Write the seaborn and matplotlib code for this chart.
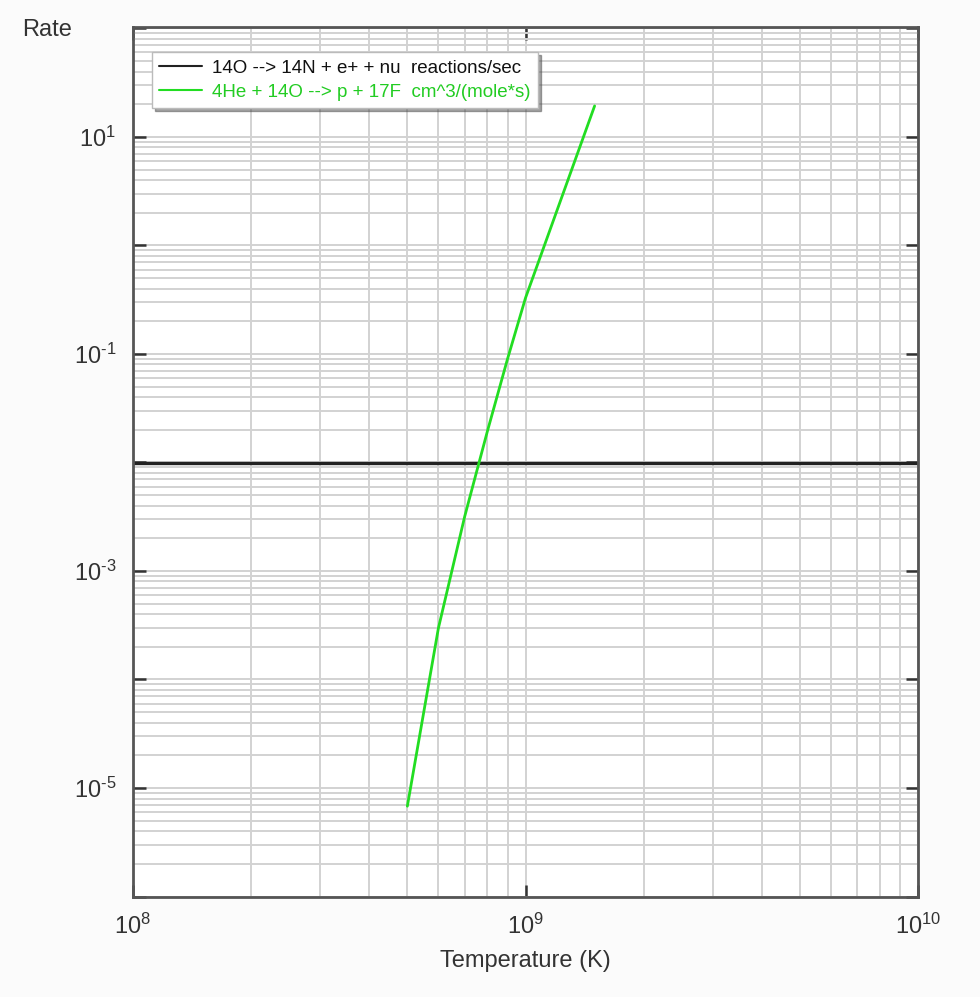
import numpy as np
import pandas as pd
import matplotlib
matplotlib.use("Agg")
import matplotlib.pyplot as plt
import matplotlib.ticker as mticker
import seaborn as sns

# Reaction rates versus temperature
decay_label = "14O --> 14N + e+ + nu  reactions/sec"
capture_label = "4He + 14O --> p + 17F  cm^3/(mole*s)"

decay_T = [1e8, 1e10]
decay_rate = [9.8e-3, 9.8e-3]

capture_T = [5.0e8, 6.0e8, 7.0e8, 8.0e8, 9.0e8, 1.0e9, 1.5e9]
capture_rate = [6.8e-6, 2.98e-4, 3.18e-3, 1.95e-2, 9.0e-2, 3.28e-1, 19.3]

x_ticks = [1e8, 1e9, 1e10]
x_ticklabels = [r"$\mathregular{10^{8}}$", r"$\mathregular{10^{9}}$", r"$\mathregular{10^{10}}$"]
y_exponents = [-6, -5, -4, -3, -2, -1, 0, 1, 2]
y_labelled = [-5, -3, -1, 1]


def power_label(e):
    # plain hyphen in the exponent rather than a typographic minus
    sign = r"\text{-}" if e < 0 else ""
    return r"$\mathregular{10^{%s%d}}$" % (sign, abs(e))


sns.set_theme(style="white")
plt.rcParams["font.family"] = ["Liberation Sans", "DejaVu Sans"]
plt.rcParams["mathtext.fontset"] = "custom"
plt.rcParams["mathtext.rm"] = "Liberation Sans"
plt.rcParams["mathtext.it"] = "Liberation Sans"
plt.rcParams["axes.unicode_minus"] = False

df = pd.concat([
    pd.DataFrame({"T": decay_T, "rate": decay_rate, "reaction": decay_label}),
    pd.DataFrame({"T": capture_T, "rate": capture_rate, "reaction": capture_label}),
], ignore_index=True)

fig = plt.figure(figsize=(9.8, 9.97), dpi=100, facecolor="#fbfbfb")
ax = fig.add_axes([133 / 980, 1 - 897 / 997, (918 - 133) / 980, (897 - 27) / 997])
ax.set_facecolor("white")

palette = {decay_label: "#222222", capture_label: "#22dd22"}
sns.lineplot(data=df, x="T", y="rate", hue="reaction", palette=palette,
             ax=ax, legend=True, sort=False)
for line, lw in zip(ax.get_lines(), [2.4, 2.0]):
    line.set_linewidth(lw)

ax.set_xscale("log")
ax.set_yscale("log")
ax.set_xlim(1e8, 1e10)
ax.set_ylim(9.9e-7, 1.03e2)

# Grid on every decade and on every sub-decade step
ax.xaxis.set_minor_locator(mticker.LogLocator(base=10, subs=np.arange(2, 10)))
ax.yaxis.set_minor_locator(mticker.LogLocator(base=10, subs=np.arange(2, 10)))
ax.grid(True, which="both", color="#d2d2d2", linewidth=1.4)
ax.set_axisbelow(True)

ax.set_xticks(x_ticks)
ax.set_xticklabels(x_ticklabels)
ax.set_yticks([10.0 ** e for e in y_exponents])
ax.set_yticklabels([power_label(e) if e in y_labelled else "" for e in y_exponents])
ax.xaxis.set_minor_formatter(mticker.NullFormatter())
ax.yaxis.set_minor_formatter(mticker.NullFormatter())

ax.tick_params(which="major", direction="in", length=9, width=1.8, color="#333333",
               top=True, right=True, bottom=True, left=True,
               labelsize=17, labelcolor="#333333", pad=12)
ax.tick_params(which="minor", length=0)

for sp in ax.spines.values():
    sp.set_color("#555555")
    sp.set_linewidth(2.0)
    sp.set_visible(True)

ax.set_xlabel("Temperature (K)", fontsize=17, color="#333333", labelpad=8)
ax.set_ylabel("")
fig.text(22 / 980, 1 - 30 / 997, "Rate", fontsize=17, color="#333333",
         ha="left", va="center")

leg = ax.legend(loc="upper left", bbox_to_anchor=(0.024, 0.971), borderaxespad=0,
                fontsize=13.5, frameon=True, fancybox=False, shadow=True,
                handlelength=2.3, handletextpad=0.5, borderpad=0.4,
                labelspacing=0.35, title=None)
leg.get_frame().set_edgecolor("#bbbbbb")
leg.get_frame().set_facecolor("white")
leg.get_frame().set_linewidth(1.0)
for txt, col in zip(leg.get_texts(), ["#111111", "#22cc22"]):
    txt.set_color(col)

fig.savefig("out.png", dpi=100, facecolor=fig.get_facecolor())
